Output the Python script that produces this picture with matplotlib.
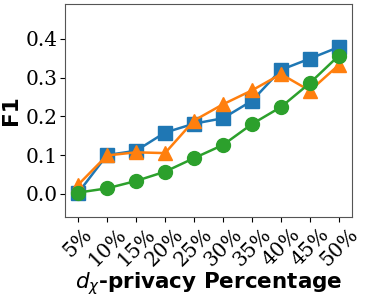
import matplotlib
matplotlib.use("Agg")
import matplotlib.pyplot as plt

labels = ["5%", "10%", "15%", "20%", "25%", "30%", "35%", "40%", "45%", "50%"]
blue = [0.002, 0.100, 0.111, 0.158, 0.181, 0.195, 0.240, 0.320, 0.349, 0.379]
orange = [0.023, 0.099, 0.107, 0.105, 0.189, 0.231, 0.267, 0.309, 0.266, 0.333]
green = [0.003, 0.014, 0.033, 0.057, 0.092, 0.126, 0.180, 0.224, 0.286, 0.357]

fig = plt.figure(figsize=(3.66, 2.99), dpi=100)
ax = fig.add_axes([65/366, 1-217/299, (352-65)/366, (217-4)/299])
x = list(range(len(labels)))
ax.plot(x, blue, marker="s", color="#1f77b4", lw=1.8, ms=10)
ax.plot(x, orange, marker="^", color="#ff7f0e", lw=1.8, ms=10.5)
ax.plot(x, green, marker="o", color="#2ca02c", lw=1.8, ms=10)
ax.set_ylim(-0.06, 0.49)
ax.set_xticks(x)
ax.set_xticklabels(labels, rotation=45, fontsize=14.5, family="DejaVu Serif")
ax.set_yticks([0.0, 0.1, 0.2, 0.3, 0.4])
ax.set_yticklabels(["0.0", "0.1", "0.2", "0.3", "0.4"], fontsize=14.5, family="DejaVu Serif")
ax.tick_params(pad=2)
for s in ax.spines.values():
    s.set_color("#555555")
ax.set_ylabel("F1", fontsize=15.5, fontweight="bold", labelpad=3)
ax.set_xlabel(r"$d_{\chi}$-privacy Percentage", fontsize=15.5, fontweight="bold", labelpad=0)
fig.savefig("out.png", dpi=100)
